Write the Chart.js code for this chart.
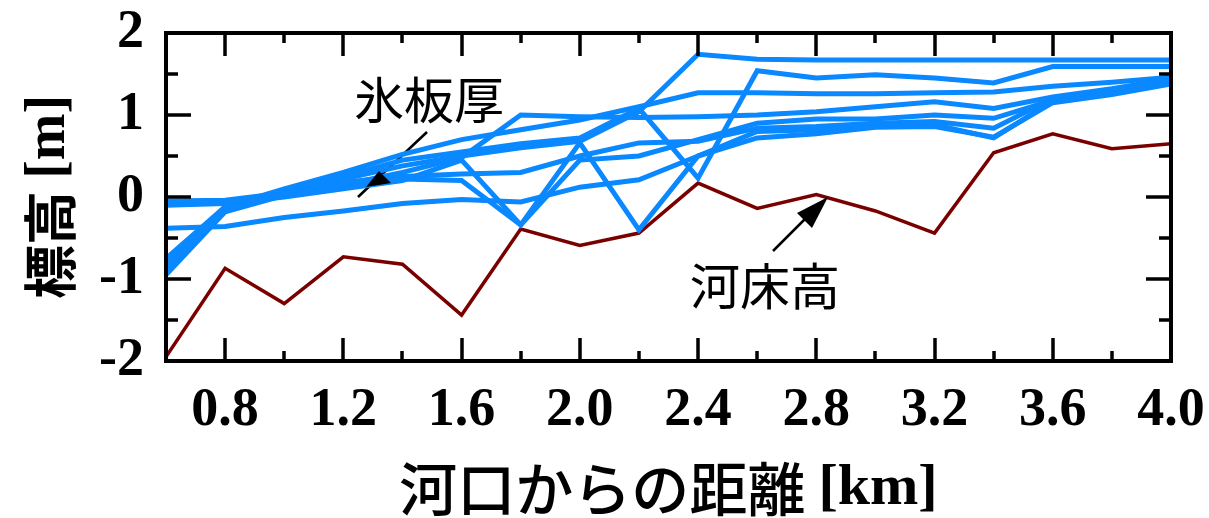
<!DOCTYPE html>
<html>
<head>
<meta charset="utf-8">
<script src="https://cdn.jsdelivr.net/npm/chart.js@4.4.1/dist/chart.umd.min.js"></script>
<style>
  html, body { margin: 0; padding: 0; background: #fff; }
  #wrap { width: 1209px; height: 518px; }
</style>
</head>
<body>
<div id="wrap"><canvas id="c" width="1209" height="518"></canvas></div>
<script>
// Distance from the river mouth [km]
const distanceKm = [0.6, 0.8, 1.0, 1.2, 1.4, 1.6, 1.8, 2.0, 2.2, 2.4, 2.6, 2.8, 3.0, 3.2, 3.4, 3.6, 3.8, 4.0];

// Riverbed elevation [m]
const riverBed = [-1.95, -0.87, -1.30, -0.73, -0.82, -1.44, -0.39, -0.59, -0.44, 0.17, -0.14, 0.03, -0.17, -0.44, 0.54, 0.77, 0.59, 0.65];

// Ice sheet surveys (top of ice) [m]
const ice1 = [-0.85, -0.15, 0.05, 0.22, 0.38, 0.50, 0.60, 0.68, 1.04, 1.74, 1.68, 1.67, 1.67, 1.67, 1.67, 1.67, 1.67, 1.67];
const ice2 = [-0.90, -0.15, 0.05, 0.25, 0.45, 0.55, 0.65, 0.72, 1.08, 0.23, 1.54, 1.45, 1.49, 1.45, 1.39, 1.59, 1.59, 1.59];
const ice3 = [-0.80, -0.12, 0.10, 0.30, 0.52, 0.70, 0.82, 0.94, 1.10, 1.27, 1.27, 1.26, 1.26, 1.27, 1.28, 1.35, 1.40, 1.46];
const ice4 = [-0.05, -0.04, 0.05, 0.15, 0.30, 0.48, 1.00, 0.98, 0.97, 0.98, 1.00, 1.04, 1.10, 1.16, 1.08, 1.22, 1.32, 1.44];
const ice5 = [-0.10, -0.08, 0.00, 0.10, 0.20, 0.45, -0.34, 0.66, -0.40, 0.50, 0.72, 0.77, 0.85, 0.86, 0.73, 1.15, 1.25, 1.38];
const ice6 = [-0.75, -0.12, 0.05, 0.15, 0.22, 0.20, -0.34, 0.45, 0.50, 0.70, 0.90, 0.95, 0.95, 1.00, 0.96, 1.18, 1.28, 1.40];
const ice7 = [-0.38, -0.36, -0.25, -0.17, -0.08, -0.03, -0.06, 0.12, 0.21, 0.50, 0.80, 0.82, 0.87, 0.88, 0.72, 1.17, 1.27, 1.39];
const ice8 = [-0.95, -0.18, 0.02, 0.18, 0.25, 0.28, 0.30, 0.50, 0.66, 0.68, 0.84, 0.86, 0.90, 0.92, 0.84, 1.20, 1.30, 1.42];
const iceSeries = [ice1, ice2, ice3, ice4, ice5, ice6, ice7, ice8];

// Axis tick labels
const xTickLabels = ['0.8', '1.2', '1.6', '2.0', '2.4', '2.8', '3.2', '3.6', '4.0'];
const yTickLabels = ['-2', '-1', '0', '1', '2'];

const ICE_COLOR = '#0A88FF';
const BED_COLOR = '#7A0000';
const NUM_FONT = '"Liberation Serif", "Times New Roman", serif';
const JP_FONT = '"Noto Sans CJK JP", sans-serif';

const toPoints = ys => ys.map((y, i) => ({ x: distanceKm[i], y }));

const datasets = iceSeries.map(ys => ({
  data: toPoints(ys),
  borderColor: ICE_COLOR,
  borderWidth: 5,
  pointRadius: 0,
  tension: 0,
  fill: false
}));
datasets.push({
  data: toPoints(riverBed),
  borderColor: BED_COLOR,
  borderWidth: 3.5,
  pointRadius: 0,
  tension: 0,
  fill: false
});

function arrowLine(ctx, x1, y1, x2, y2, w) {
  ctx.save();
  ctx.strokeStyle = '#000';
  ctx.lineWidth = w;
  ctx.beginPath();
  ctx.moveTo(x1, y1);
  ctx.lineTo(x2, y2);
  ctx.stroke();
  ctx.restore();
}
function triangle(ctx, pts) {
  ctx.save();
  ctx.fillStyle = '#000';
  ctx.beginPath();
  ctx.moveTo(pts[0][0], pts[0][1]);
  ctx.lineTo(pts[1][0], pts[1][1]);
  ctx.lineTo(pts[2][0], pts[2][1]);
  ctx.closePath();
  ctx.fill();
  ctx.restore();
}

// Draws a row of text runs with different fonts, centred on cx
function textRuns(ctx, runs, cx, cy) {
  let total = 0;
  runs.forEach(r => { ctx.font = r.font; r.w = ctx.measureText(r.text).width; total += r.w; });
  let x = cx - total / 2;
  ctx.textAlign = 'left';
  ctx.textBaseline = 'middle';
  runs.forEach(r => { ctx.font = r.font; ctx.fillText(r.text, x, cy); x += r.w; });
}

// Frame, inward ticks on all four sides, axis titles and callouts
const framePlugin = {
  id: 'frame',
  beforeDatasetsDraw(chart) {
    // leader line of the ice-sheet callout sits under the survey lines
    arrowLine(chart.ctx, 427, 132, 358, 197, 2.5);
  },
  afterDatasetsDraw(chart) {
    const ctx = chart.ctx;
    const a = chart.chartArea;
    const xs = chart.scales.x, ys = chart.scales.y;

    ctx.save();
    ctx.strokeStyle = '#000';
    ctx.lineWidth = 3.5;
    ctx.lineCap = 'butt';
    for (let k = 1; k < 17; k++) {
      const v = 0.6 + k * 0.2;
      const px = Math.round(xs.getPixelForValue(v));
      const major = Math.round(v * 10) % 4 === 0;
      const len = major ? 23 : 10;
      ctx.beginPath();
      ctx.moveTo(px, a.bottom); ctx.lineTo(px, a.bottom - len);
      ctx.moveTo(px, a.top); ctx.lineTo(px, a.top + len);
      ctx.stroke();
    }
    for (let k = 1; k < 8; k++) {
      const v = -2 + k * 0.5;
      const py = Math.round(ys.getPixelForValue(v));
      const major = Math.abs(v - Math.round(v)) < 1e-6;
      const len = major ? 25 : 12;
      ctx.beginPath();
      ctx.moveTo(a.left, py); ctx.lineTo(a.left + len, py);
      ctx.moveTo(a.right, py); ctx.lineTo(a.right - len, py);
      ctx.stroke();
    }
    ctx.lineWidth = 4;
    ctx.strokeRect(a.left, a.top, a.right - a.left, a.bottom - a.top);
    ctx.restore();

    // callouts
    ctx.save();
    ctx.fillStyle = '#000';
    ctx.font = '50px ' + JP_FONT;
    ctx.textAlign = 'center';
    ctx.textBaseline = 'middle';
    ctx.fillText('氷板厚', 429, 100);
    ctx.fillText('河床高', 765, 286);
    ctx.restore();
    triangle(ctx, [[366, 187], [379, 171], [391, 183]]);
    arrowLine(ctx, 773, 251, 812, 212, 2.5);
    triangle(ctx, [[828, 197], [797, 213], [812, 228]]);

    // axis titles
    ctx.save();
    ctx.fillStyle = '#000';
    textRuns(ctx, [
      { text: '河口からの距離 ', font: '500 58px ' + JP_FONT },
      { text: '[km]', font: 'bold 58px ' + NUM_FONT }
    ], (a.left + a.right) / 2, 489);
    ctx.translate(50, (a.top + a.bottom) / 2);
    ctx.rotate(-Math.PI / 2);
    textRuns(ctx, [
      { text: '標高 ', font: 'bold 54px ' + JP_FONT },
      { text: '[m]', font: 'bold 56px ' + NUM_FONT }
    ], 0, 0);
    ctx.restore();
  }
};

// keep the plot box fixed: no extra room reserved for overhanging tick labels
const noOverhang = s => { s.paddingTop = 0; s.paddingBottom = 0; s.paddingLeft = 0; s.paddingRight = 0; };

new Chart(document.getElementById('c'), {
  type: 'line',
  data: { datasets },
  options: {
    responsive: false,
    animation: false,
    events: [],
    layout: { padding: { top: 33, right: 38, left: 0, bottom: 0 } },
    plugins: { legend: { display: false }, tooltip: { enabled: false } },
    scales: {
      x: {
        type: 'linear',
        min: 0.6,
        max: 4.0,
        grid: { display: false, drawTicks: false },
        border: { display: false },
        ticks: {
          stepSize: 0.2,
          autoSkip: false,
          maxRotation: 0,
          padding: 18,
          color: '#000',
          font: { family: NUM_FONT, size: 54, weight: 'bold' },
          callback: v => {
            const lbl = v.toFixed(1);
            return xTickLabels.includes(lbl) ? lbl : '';
          }
        },
        afterFit: s => { s.height = 157; noOverhang(s); }
      },
      y: {
        min: -2,
        max: 2,
        grid: { display: false, drawTicks: false },
        border: { display: false },
        ticks: {
          stepSize: 1,
          padding: 22,
          color: '#000',
          font: { family: NUM_FONT, size: 54, weight: 'bold' },
          callback: v => {
            const lbl = String(Math.round(v));
            return yTickLabels.includes(lbl) ? lbl : '';
          }
        },
        afterFit: s => { s.width = 166; noOverhang(s); }
      }
    }
  },
  plugins: [framePlugin]
});
</script>
</body>
</html>
